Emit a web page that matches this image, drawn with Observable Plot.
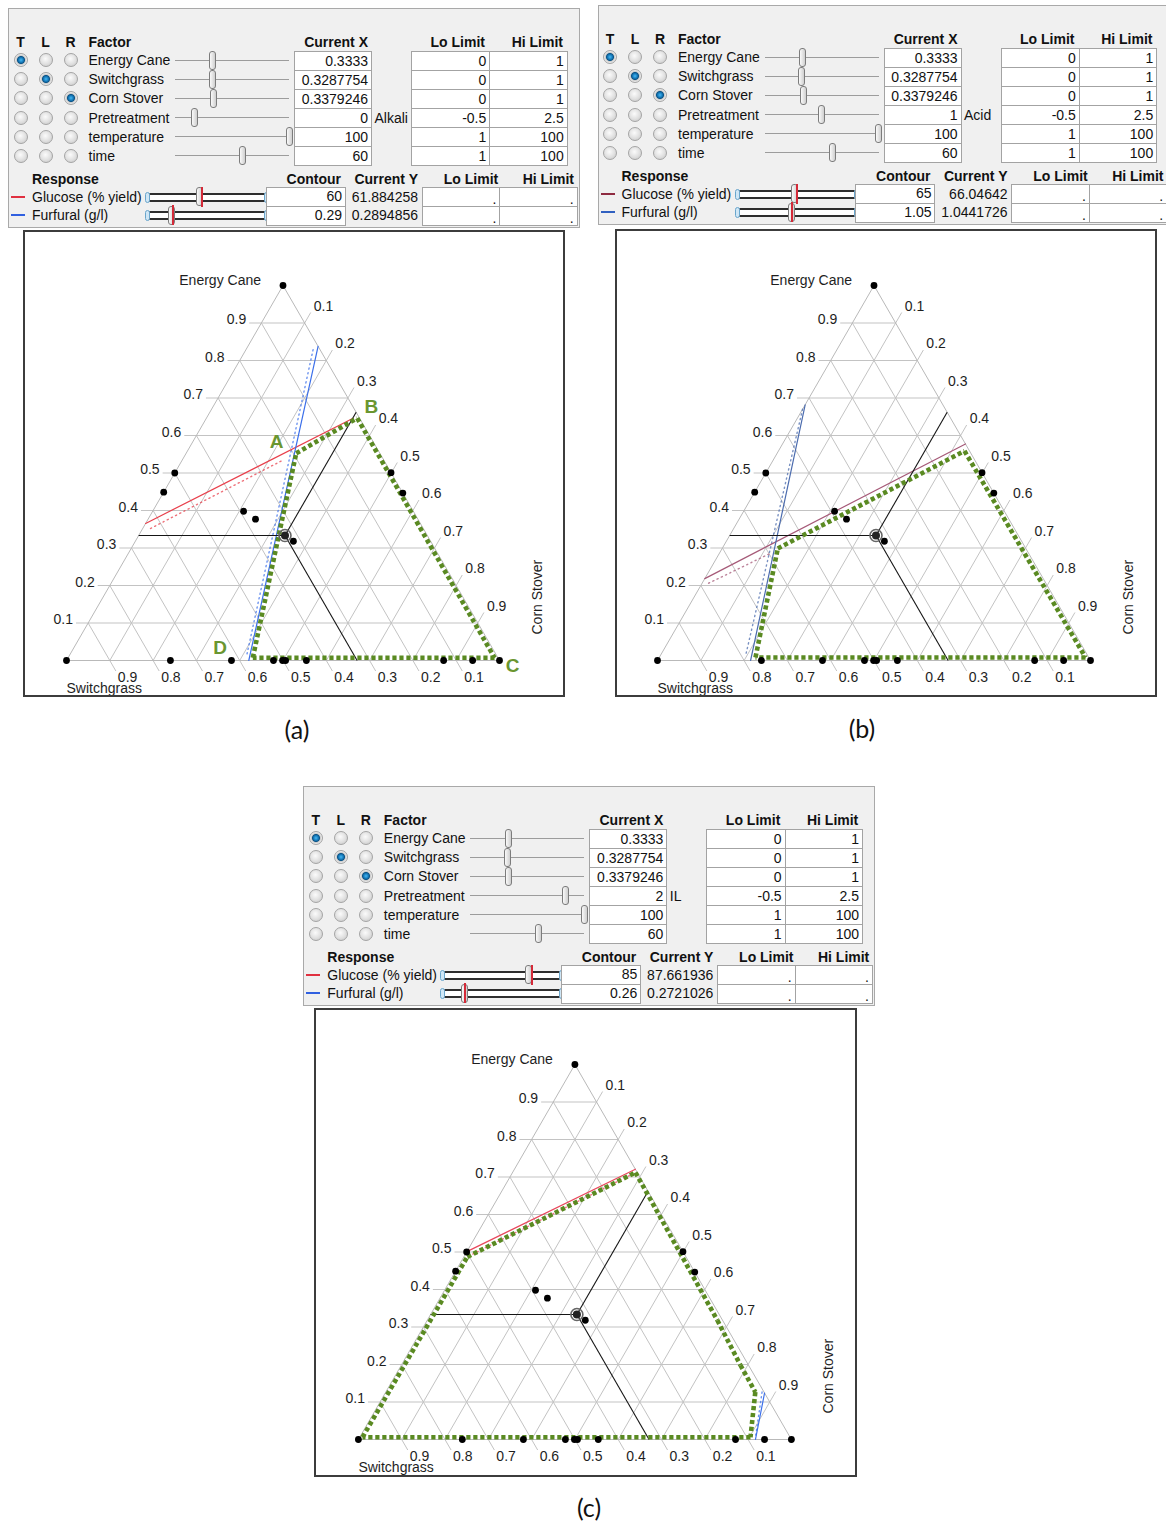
<!DOCTYPE html>
<html><head><meta charset="utf-8">
<script src="https://cdn.jsdelivr.net/npm/d3@7"></script>
<script src="https://cdn.jsdelivr.net/npm/@observablehq/plot@0.6"></script>
<style>
html,body{margin:0;padding:0;background:#fff;}
body{width:1166px;height:1524px;overflow:hidden;position:relative;font-family:"Liberation Sans",Arial,sans-serif;color:#111;}
</style>
</head><body>
<script>
// ---------------- DATA ----------------
const panelNames = ["(a)", "(b)", "(c)"];
const factorNames = ["Energy Cane", "Switchgrass", "Corn Stover", "Pretreatment", "temperature", "time"];
const loLimits = [0, 0, 0, -0.5, 1, 1];
const hiLimits = [1, 1, 1, 2.5, 100, 100];
const mixtureCurrent = [0.3333, 0.3287754, 0.3379246];
const pretreatValue = [0, 1, 2];
const pretreatLabel = ["Alkali", "Acid", "IL"];
const temperatureValue = [100, 100, 100];
const timeValue = [60, 60, 60];
const responseNames = ["Glucose (% yield)", "Furfural (g/l)"];
const glucoseContour = [60, 65, 85];
const glucoseCurrent = [61.884258, 66.04642, 87.661936];
const furfuralContour = [0.29, 1.05, 0.26];
const furfuralCurrent = [0.2894856, 1.0441726, 0.2721026];
const glucoseThumb = [0.438, 0.483, 0.72];
const glucoseMark = [0.457, 0.503, 0.749];
const furfuralThumb = [0.2, 0.454, 0.177];
const furfuralMark = [0.208, 0.466, 0.185];

const ticks = [0.1, 0.2, 0.3, 0.4, 0.5, 0.6, 0.7, 0.8, 0.9];

// design points (Energy Cane, Switchgrass, Corn Stover)
const designEC = [1, 0, 0, 0.5, 0.449, 0.501, 0.4465, 0, 0, 0, 0, 0, 0, 0, 0, 0.398, 0.377, 0.318];
const designSG = [0, 1, 0, 0.5, 0.551, 0, 0, 0.76, 0.619, 0.522, 0.501, 0.494, 0.446, 0.129, 0.062, 0.392, 0.375, 0.317];
const designCS = [0, 0, 1, 0, 0, 0.499, 0.5535, 0.24, 0.381, 0.478, 0.499, 0.506, 0.554, 0.871, 0.938, 0.210, 0.248, 0.365];

// contour lines, [EC, SG, CS] end points
const glucoseLines = [
  [[0.3655, 0.6345, 0], [0.646, 0.015, 0.339]],
  [[0.2184, 0.7816, 0], [0.5775, 0, 0.4225]],
  [[0.501, 0.499, 0], [0.7207, 0, 0.2793]]
];
const glucoseShade = [
  [[0.352, 0.63, 0.018], [0.535, 0.2315, 0.2335]],
  [[0.206, 0.779, 0.015], [0.286, 0.596, 0.118]],
  [[0.489, 0.501, 0.01], [0.706, 0.0175, 0.2765]]
];
const furfuralLines = [
  [[0.838, 0, 0.162], [0, 0.579, 0.421]],
  [[0.682, 0.318, 0], [0, 0.785, 0.215]],
  [[0.124, 0, 0.876], [0, 0.083, 0.917]]
];
const furfuralShade = [
  [[0.829, 0.016, 0.155], [0.018, 0.574, 0.408]],
  [[0.67, 0.33, 0], [0.013, 0.79, 0.197]],
  [[0.1265, 0.0045, 0.869], [0.006, 0.08, 0.914]]
];
// feasible region outlines
const feasibleA = [[0.5527, 0.193, 0.2542], [0.6463, 0.0054, 0.3483], [0.0072, 0.008, 0.985], [0.0072, 0.566, 0.4267]];
const feasibleB = [[0.008, 0.7697, 0.2223], [0.2987, 0.5728, 0.1285], [0.5588, 0.0116, 0.4296], [0.008, 0.0075, 0.9845]];
const feasibleC = [[0.487, 0.505, 0.008], [0.712, 0.004, 0.284], [0.318, 0.012, 0.67], [0.198, 0.0186, 0.7834], [0.1265, 0.0201, 0.8534], [0.006, 0.0915, 0.9025], [0.006, 0.9875, 0.0065]];
const feasible = [feasibleA, feasibleB, feasibleC];
const cornerLetters = ["A", "B", "C", "D"];

const glucoseColor = ["#e8404c", "#a65a78", "#e8485c"];
const furfuralColor = ["#3b6fea", "#4c6cae", "#3b6fea"];
const legendGlucose = ["#e03040", "#8e2a40", "#e03040"];
const legendFurfural = ["#3060e0", "#3060c0", "#3060e0"];

// ---------------- LAYOUT ----------------
const tableLeft = [8, 597.5, 303.3];
const tableTop = [8, 5, 786];
const boxRect = [[23, 230, 542, 467], [615, 229, 542, 468], [314, 1008, 543, 469]];
const vertexBL = [[66, 660], [657, 660], [357.9, 1439]];
const captionPos = [[297, 729], [862, 728], [589, 1507]];
const SIDE = 433;
const S3 = Math.sqrt(3) / 2;
const EXT = 0.028;
const GREEN = "#5a8a22";

function div(parent, css, text) {
  const e = document.createElement("div");
  e.style.cssText = "position:absolute;white-space:nowrap;box-sizing:border-box;" + css;
  if (text != null) e.textContent = text;
  parent.appendChild(e);
  return e;
}
function textAt(parent, x, yc, text, align, bold, w) {
  w = w || 200;
  let left = align === "right" ? x - w : align === "center" ? x - w / 2 : x;
  return div(parent, `left:${left}px;top:${yc - 9}px;width:${w}px;height:18px;line-height:18px;text-align:${align};font-weight:${bold ? "bold" : "normal"};font-size:14px;`, text);
}
function radio(parent, cx, cy, on) {
  const bg = on
    ? "radial-gradient(circle at 50% 50%, #49b8f0 0, #1c86c8 2px, #0d5588 3.6px, #c9c9c9 4.4px, #e9e9e9 5.5px, #bdbdbd 100%)"
    : "radial-gradient(circle at 45% 40%, #fbfbfb 0, #e2e2e2 50%, #c4c4c4 100%)";
  div(parent, `left:${cx - 7}px;top:${cy - 7}px;width:14px;height:14px;border-radius:50%;border:1px solid #a4a4a4;background:${bg};`);
}
function thumb(parent, x, cy) {
  div(parent, `left:${x - 3.5}px;top:${cy - 9.5}px;width:7px;height:19px;border-radius:3px;border:1px solid #7c7c7c;background:linear-gradient(90deg,#fafafa,#cfcfcf);`);
}
function cell(parent, l, t, w, h, text, valign) {
  const c = div(parent, `left:${l}px;top:${t}px;width:${w}px;height:${h}px;border:1px solid #a3a3a3;background:#fff;text-align:right;padding-right:3px;font-size:14px;line-height:${valign === "bottom" ? h + 4 : h - 2}px;`, text);
  return c;
}

function buildTable(i) {
  const P = div(document.body, `left:${tableLeft[i]}px;top:${tableTop[i]}px;width:572px;height:220px;background:#f0f0f0;border:1px solid #a9a9a9;`);
  const rowTop = r => 41.7 + 19.1 * r;
  const rowC = r => rowTop(r) + 9.55;
  const hy = 32.5;
  textAt(P, 11.5, hy, "T", "center", true, 20);
  textAt(P, 36.5, hy, "L", "center", true, 20);
  textAt(P, 61.5, hy, "R", "center", true, 20);
  textAt(P, 79.5, hy, "Factor", "left", true, 100);
  textAt(P, 359, hy, "Current X", "right", true, 100);
  textAt(P, 476, hy, "Lo Limit", "right", true, 100);
  textAt(P, 554, hy, "Hi Limit", "right", true, 100);
  const values = [mixtureCurrent[0], mixtureCurrent[1], mixtureCurrent[2], pretreatValue[i], temperatureValue[i], timeValue[i]];
  factorNames.forEach((name, r) => {
    const cy = rowC(r);
    [11.5, 36.5, 61.5].forEach((cx, j) => radio(P, cx, cy, r === j));
    textAt(P, 79.5, cy, name, "left", false, 100);
    div(P, `left:166px;top:${cy - 0.5}px;width:114px;height:1px;background:#9c9c9c;`);
    const f = (values[r] - loLimits[r]) / (hiLimits[r] - loLimits[r]);
    thumb(P, 166 + 114 * f, cy);
    cell(P, 285, rowTop(r), 78, 20.1, String(values[r]));
    cell(P, 402, rowTop(r), 79.3, 20.1, String(loLimits[r]));
    cell(P, 480.3, rowTop(r), 78.4, 20.1, String(hiLimits[r]));
  });
  textAt(P, 365.5, rowC(3), pretreatLabel[i], "left", false, 40);
  // responses
  const ry = 169.5;
  textAt(P, 23, ry, "Response", "left", true, 100);
  textAt(P, 332, ry, "Contour", "right", true, 100);
  textAt(P, 409, ry, "Current Y", "right", true, 100);
  textAt(P, 462, ry, "Lo Limit", "center", true, 100);
  textAt(P, 565, ry, "Hi Limit", "right", true, 100);
  const contours = [glucoseContour[i], furfuralContour[i]];
  const currents = [glucoseCurrent[i], furfuralCurrent[i]];
  const thumbs = [glucoseThumb[i], furfuralThumb[i]];
  const marks = [glucoseMark[i], furfuralMark[i]];
  const legend = [legendGlucose[i], legendFurfural[i]];
  responseNames.forEach((name, r) => {
    const top = 178.3 + 18.7 * r;
    const cy = top + 9.35;
    div(P, `left:2px;top:${cy - 1}px;width:14px;height:2px;background:${legend[r]};`);
    textAt(P, 23, cy, name, "left", false, 120);
    // slider
    const sl = 139, sw = 118;
    div(P, `left:${sl}px;top:${cy - 4}px;width:${sw}px;height:9px;border:2px solid #2e2e2e;border-radius:2px;background:#fff;`);
    div(P, `left:${sl - 3}px;top:${cy - 5}px;width:5px;height:11px;border-radius:3px;border:1px solid #6aa6cc;background:#cfe6f5;`);
    div(P, `left:${sl + sw - 2}px;top:${cy - 5}px;width:5px;height:11px;border-radius:3px;border:1px solid #6aa6cc;background:#cfe6f5;`);
    thumb(P, sl + sw * thumbs[r], cy);
    div(P, `left:${sl + sw * marks[r] - 1}px;top:${cy - 10}px;width:2px;height:20px;background:#d42a38;`);
    cell(P, 256.7, top, 80.3, 19.7, String(contours[r]));
    textAt(P, 409, cy, String(currents[r]), "right", false, 100);
    cell(P, 412.7, top, 78.6, 19.7, ".", "bottom");
    cell(P, 490.3, top, 78.4, 19.7, ".", "bottom");
  });
}

const tern = (a) => ({EC: a[0], SG: a[1], CS: a[2]});
const TX = d => d.CS + d.EC / 2;
const TY = d => d.EC * S3;

function buildTernary(i) {
  const [bl, bt, bw, bh] = boxRect[i];
  const B = div(document.body, `left:${bl}px;top:${bt}px;width:${bw}px;height:${bh}px;border:2px solid #3c3c3c;background:#fff;overflow:hidden;`);
  const innerL = bl + 2, innerT = bt + 2;
  const x0 = vertexBL[i][0] - innerL, y0 = vertexBL[i][1] - innerT;

  const grid = [];
  for (const k of ticks) {
    grid.push({a: tern([k, 1 - k + EXT, -EXT]), b: tern([k, 0, 1 - k])});
    grid.push({a: tern([0, 1 - k, k]), b: tern([1 - k + EXT, -EXT, k])});
    grid.push({a: tern([1 - k, k, 0]), b: tern([-EXT, k, 1 - k + EXT])});
  }
  const fmt = k => String(k);
  const ecLab = ticks.map(k => ({p: tern([k, 1 - k + EXT, -EXT]), t: fmt(k)}));
  const csLab = ticks.map(k => ({p: tern([1 - k + EXT, -EXT, k]), t: fmt(k)}));
  const sgLab = ticks.map(k => ({p: tern([-EXT, k, 1 - k + EXT]), t: fmt(k)}));
  const edges = [[1, 0, 0], [0, 1, 0], [0, 0, 1], [1, 0, 0]].map(tern);
  const design = designEC.map((e, j) => tern([e, designSG[j], designCS[j]]));
  const cur = tern(mixtureCurrent);
  const cross = [
    {a: cur, b: tern([cur.EC, 1 - cur.EC, 0])},
    {a: cur, b: tern([1 - cur.CS, 0, cur.CS])},
    {a: cur, b: tern([0, cur.SG, 1 - cur.SG])}
  ];
  const poly = feasible[i].map(tern);
  const polySegs = poly.map((p, j) => ({a: p, b: poly[(j + 1) % poly.length]}));
  const gl = glucoseLines[i].map(tern), fl = furfuralLines[i].map(tern);
  const gs = glucoseShade[i].map(tern), fs = furfuralShade[i].map(tern);
  const txt = {fontSize: 14, fill: "#1e1e1e", fontFamily: "Liberation Sans, Arial, sans-serif"};

  const marks = [
    Plot.link(grid, {x1: d => TX(d.a), y1: d => TY(d.a), x2: d => TX(d.b), y2: d => TY(d.b), stroke: "#c3c3c3", strokeWidth: 1}),
    Plot.line(edges, {x: TX, y: TY, stroke: "#b9b9b9", strokeWidth: 1}),
    Plot.line(gs, {x: TX, y: TY, stroke: glucoseColor[i], strokeWidth: 1.4, strokeDasharray: "1.2,3.5", strokeOpacity: 0.75}),
    Plot.line(fs, {x: TX, y: TY, stroke: furfuralColor[i], strokeWidth: 1.4, strokeDasharray: "1.2,3.5", strokeOpacity: 0.75}),
    Plot.line(gl, {x: TX, y: TY, stroke: glucoseColor[i], strokeWidth: 1.2}),
    Plot.line(fl, {x: TX, y: TY, stroke: furfuralColor[i], strokeWidth: 1.2}),
    Plot.link(cross, {x1: d => TX(d.a), y1: d => TY(d.a), x2: d => TX(d.b), y2: d => TY(d.b), stroke: "#151515", strokeWidth: 1.1}),
    Plot.link(polySegs, {x1: d => TX(d.a), y1: d => TY(d.a), x2: d => TX(d.b), y2: d => TY(d.b), stroke: GREEN, strokeWidth: 4.6, strokeDasharray: "4.2,2.8", strokeLinecap: "butt"}),
    Plot.dot(design, {x: TX, y: TY, r: 3.4, fill: "#000"}),
    Plot.dot([cur], {x: TX, y: TY, r: 4, fill: "#222"}),
    Plot.dot([cur], {x: TX, y: TY, r: 6, stroke: "#666", strokeWidth: 1.6, fill: "none"}),
    Plot.text(ecLab, {x: d => TX(d.p), y: d => TY(d.p), text: "t", textAnchor: "end", lineAnchor: "bottom", dx: -3, dy: 1, ...txt}),
    Plot.text(csLab, {x: d => TX(d.p), y: d => TY(d.p), text: "t", textAnchor: "start", lineAnchor: "bottom", dx: 3, dy: -2, ...txt}),
    Plot.text(sgLab, {x: d => TX(d.p), y: d => TY(d.p), text: "t", textAnchor: "start", lineAnchor: "top", dx: 2, dy: 1, ...txt}),
    Plot.text([tern([1, 0, 0])], {x: TX, y: TY, text: () => "Energy Cane", textAnchor: "end", lineAnchor: "bottom", dx: -22, dy: -1, ...txt}),
    Plot.text([tern([0, 1, 0])], {x: TX, y: TY, text: () => "Switchgrass", textAnchor: "start", lineAnchor: "top", dx: 0, dy: 22.5, ...txt}),
    Plot.text([tern([0, 0, 1])], {x: TX, y: TY, text: () => "Corn Stover", textAnchor: "start", lineAnchor: "bottom", rotate: -90, dx: 42, dy: -26, ...txt})
  ];
  if (i === 0) {
    const offs = [[-19.7, -5], [14, -5], [18, 14.5], [-32.6, -4]];
    cornerLetters.forEach((L, j) => {
      marks.push(Plot.text([poly[j]], {x: TX, y: TY, text: () => L, textAnchor: "middle", lineAnchor: "bottom", dx: offs[j][0], dy: offs[j][1], fontSize: 19, fontWeight: "bold", fill: "#6a9630", fontFamily: "Liberation Sans, Arial, sans-serif"}));
    });
  }
  const svg = Plot.plot({
    width: bw - 4, height: bh - 4, margin: 0,
    x: {domain: [0, 1], range: [x0, x0 + SIDE], axis: null},
    y: {domain: [0, S3], range: [y0, y0 - SIDE * S3], axis: null},
    style: {background: "#fff", fontFamily: "Liberation Sans, Arial, sans-serif", overflow: "visible"},
    marks
  });
  svg.style.position = "absolute";
  svg.style.left = "0px";
  svg.style.top = "0px";
  B.appendChild(svg);
}

for (let i = 0; i < 3; i++) {
  buildTable(i);
  buildTernary(i);
  div(document.body, `left:${captionPos[i][0] - 40}px;top:${captionPos[i][1] - 16}px;width:80px;height:32px;line-height:32px;text-align:center;font-family:Lato,'Open Sans',sans-serif;font-size:25px;color:#111;`, panelNames[i]);
}
</script>
</body></html>
